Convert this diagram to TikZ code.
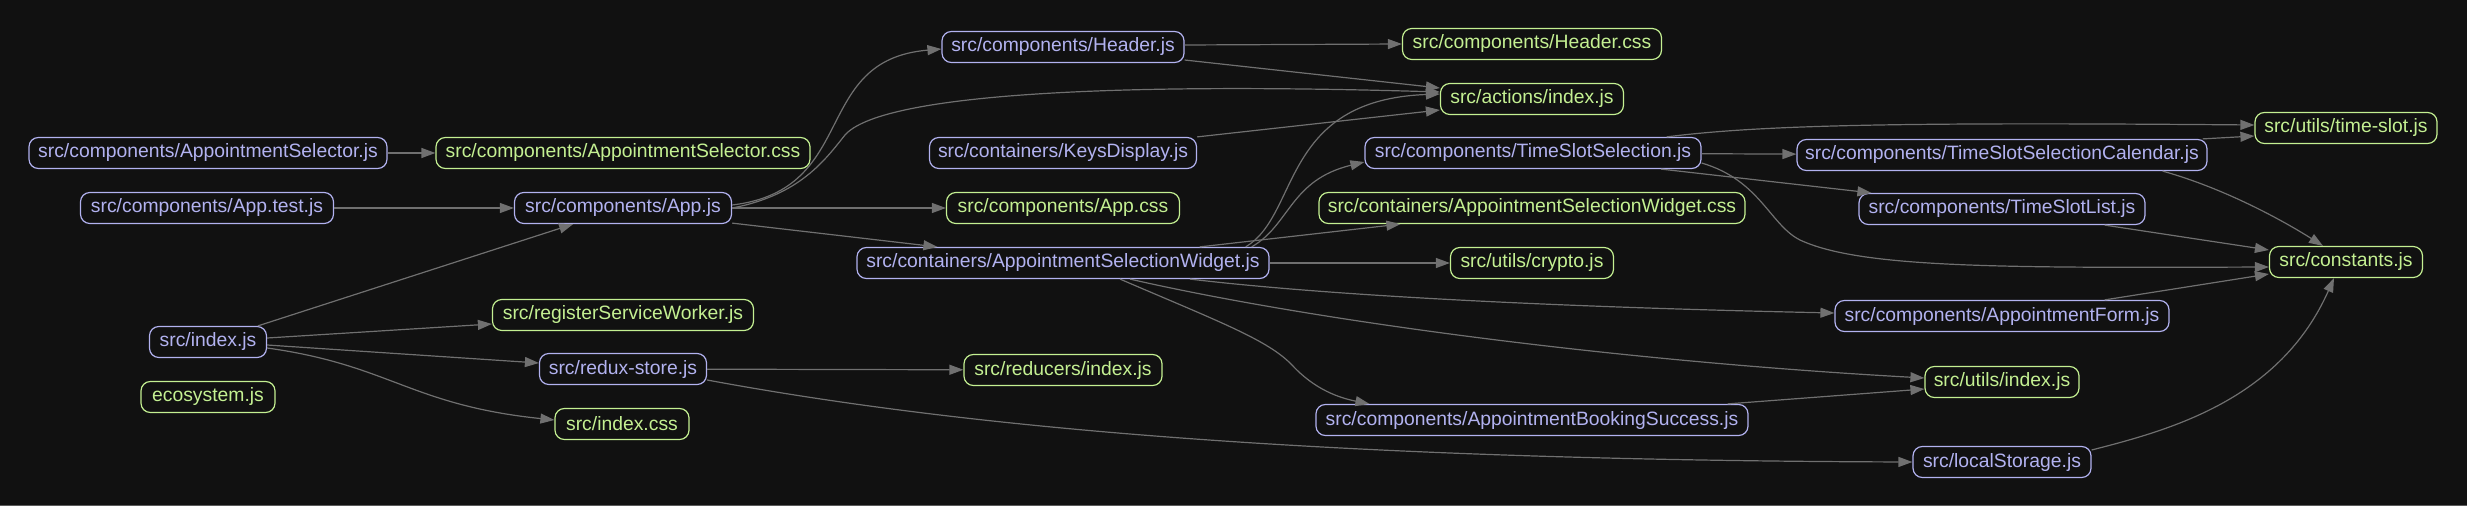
\documentclass[tikz,border=0pt]{standalone}
\usepackage{fontspec}
\setmainfont{Liberation Sans}
\usepackage{tikz}
\usetikzlibrary{arrows.meta, calc}
\definecolor{bgcolor}{RGB}{17,17,17}
\definecolor{jscolor}{RGB}{178,178,240}
\definecolor{assetcolor}{RGB}{196,240,146}
\definecolor{edgecolor}{RGB}{112,112,112}
\tikzset{
  srcfile/.style={draw=#1, text=#1, rounded corners=7pt, line width=0.9pt,
                  minimum height=23.25pt, inner xsep=4pt, inner ysep=0pt,
                  font=\fontsize{14.5}{16}\selectfont},
  srcfile/.default=jscolor,
  asset/.style={srcfile=assetcolor},
  wd/.style={minimum width=#1*0.75pt},
  dep/.style={-{Triangle[length=10.5pt, width=7.5pt]}, line width=0.9pt,
              draw=edgecolor},
}

\begin{document}
\begin{tikzpicture}[x=0.75pt, y=-0.75pt]
  \fill[bgcolor] (0,0) rectangle (2467,506);
  \fill[edgecolor!80!black] (0,504.5) rectangle (2467,506);
  \useasboundingbox (0,0) rectangle (2467,506);

  \node[srcfile, wd=358] (asel) at (208,153) {src/components/AppointmentSelector.js};
  \node[asset, wd=374] (aselcss) at (623,153) {src/components/AppointmentSelector.css};
  \node[srcfile, wd=253] (apptest) at (207,208) {src/components/App.test.js};
  \node[srcfile, wd=217] (app) at (623,208) {src/components/App.js};
  \node[asset, wd=261] (rsw) at (623,315) {src/registerServiceWorker.js};
  \node[srcfile, wd=117] (index) at (208,342) {src/index.js};
  \node[srcfile, wd=167] (store) at (623,369) {src/redux-store.js};
  \node[asset, wd=134] (eco) at (208,397) {ecosystem.js};
  \node[asset, wd=134] (indexcss) at (622,424) {src/index.css};

  \node[srcfile, wd=242] (header) at (1063,47) {src/components/Header.js};
  \node[asset, wd=259] (headercss) at (1532,44) {src/components/Header.css};
  \node[asset, wd=183] (actions) at (1532,99) {src/actions/index.js};
  \node[srcfile, wd=267] (keys) at (1063,153) {src/containers/KeysDisplay.js};
  \node[srcfile, wd=336] (tss) at (1533,153) {src/components/TimeSlotSelection.js};
  \node[asset, wd=233] (appcss) at (1063,208) {src/components/App.css};
  \node[asset, wd=426] (aswcss) at (1532,208) {src/containers/AppointmentSelectionWidget.css};
  \node[srcfile, wd=412] (asw) at (1063,263) {src/containers/AppointmentSelectionWidget.js};
  \node[asset, wd=163] (crypto) at (1532,263) {src/utils/crypto.js};
  \node[asset, wd=198] (reducers) at (1063,370) {src/reducers/index.js};
  \node[srcfile, wd=432] (abs) at (1532,420) {src/components/AppointmentBookingSuccess.js};

  \node[asset, wd=182] (timeslot) at (2346,128) {src/utils/time-slot.js};
  \node[srcfile, wd=410] (tssc) at (2002,155) {src/components/TimeSlotSelectionCalendar.js};
  \node[srcfile, wd=286] (tsl) at (2002,209) {src/components/TimeSlotList.js};
  \node[asset, wd=153] (constants) at (2346,262) {src/constants.js};
  \node[srcfile, wd=334] (aform) at (2002,316) {src/components/AppointmentForm.js};
  \node[asset, wd=154] (utils) at (2002,382) {src/utils/index.js};
  \node[srcfile, wd=178] (local) at (2002,462) {src/localStorage.js};

  \draw[dep] (asel) -- (aselcss);
  \draw[dep] (apptest) -- (app);
  \draw[dep] (index) -- (app);
  \draw[dep] ($(index.east)+(0,-4)$) -- ($(rsw.west)+(0,9)$);
  \draw[dep] ($(index.east)+(0,3)$) -- ($(store.west)+(0,-6)$);
  \draw[dep] ($(index.east)+(0,6)$) .. controls (390,365) and (410,405)
    .. ($(indexcss.west)+(0,-4)$);

  \draw[dep] ($(app.east)+(0,-3)$) .. controls (860,190) and (810,60)
    .. ($(header.west)+(0,2)$);
  \draw[dep] (app.east) .. controls (800,195) and (825,160) .. (845,135)
    .. controls (880,95) and (1100,82) .. ($(actions.west)+(0,-7)$);
  \draw[dep] (app) -- (appcss);
  \draw[dep] ($(app.south east)+(0,-1)$) -- ($(asw.north west)+(81,0)$);

  \draw[dep] ($(header.east)+(0,-2)$) -- (headercss.west);
  \draw[dep] ($(header.east)+(0,13)$) -- ($(actions.west)+(0,-11)$);
  \draw[dep] (keys.north east) -- ($(actions.west)+(0,11)$);

  \draw[dep] ($(asw.north east)+(-24,0)$) .. controls (1300,215) and (1280,100)
    .. ($(actions.west)+(0,-5)$);
  \draw[dep] ($(asw.north east)+(-18,0)$) .. controls (1290,225) and (1290,180)
    .. ($(tss.west)+(0,9)$);
  \draw[dep] ($(asw.north east)+(-70,0)$) -- ($(aswcss.south west)+(82,0)$);
  \draw[dep] (asw) -- (crypto);
  \draw[dep] ($(asw.south)+(127,0)$) .. controls (1350,298) and (1600,308)
    .. ($(aform.west)+(0,-3)$);
  \draw[dep] ($(asw.south)+(67,0)$) .. controls (1300,318) and (1600,360)
    .. ($(utils.west)+(0,-4)$);
  \draw[dep] ($(asw.south)+(57,0)$) .. controls (1220,322) and (1268,340) .. (1292,365)
    .. controls (1315,390) and (1340,398) .. ($(abs.north west)+(54,0)$);

  \draw[dep] (store) -- (reducers);
  \draw[dep] ($(store.east)+(0,11)$) .. controls (950,425) and (1300,460) .. (local.west);

  \draw[dep] ($(tss.north east)+(-35,0)$) .. controls (1760,125) and (1900,122)
    .. ($(timeslot.west)+(0,-3)$);
  \draw[dep] (tss) -- (tssc);
  \draw[dep] ($(tss.south)+(128,0)$) -- ($(tsl.north west)+(13,0)$);
  \draw[dep] ($(tss.east)+(0,10)$) .. controls (1760,180) and (1770,225) .. (1800,240)
    .. controls (1860,268) and (2000,268) .. ($(constants.west)+(0,5)$);

  \draw[dep] ($(tssc.north east)+(-5,0)$) -- ($(timeslot.west)+(0,8)$);
  \draw[dep] ($(tssc.south east)+(-45,0)$) .. controls (2230,190) and (2290,225)
    .. ($(constants.north)+(-23,0)$);
  \draw[dep] ($(tsl.south east)+(-41,0)$) -- ($(constants.west)+(0,-12)$);
  \draw[dep] ($(aform.north east)+(-65,0)$) -- ($(constants.west)+(0,12)$);
  \draw[dep] ($(abs.north east)+(-21,0)$) -- ($(utils.west)+(0,7)$);
  \draw[dep] ($(local.east)+(0,-12)$) .. controls (2170,430) and (2280,400)
    .. ($(constants.south)+(-12,0)$);
\end{tikzpicture}
\end{document}
